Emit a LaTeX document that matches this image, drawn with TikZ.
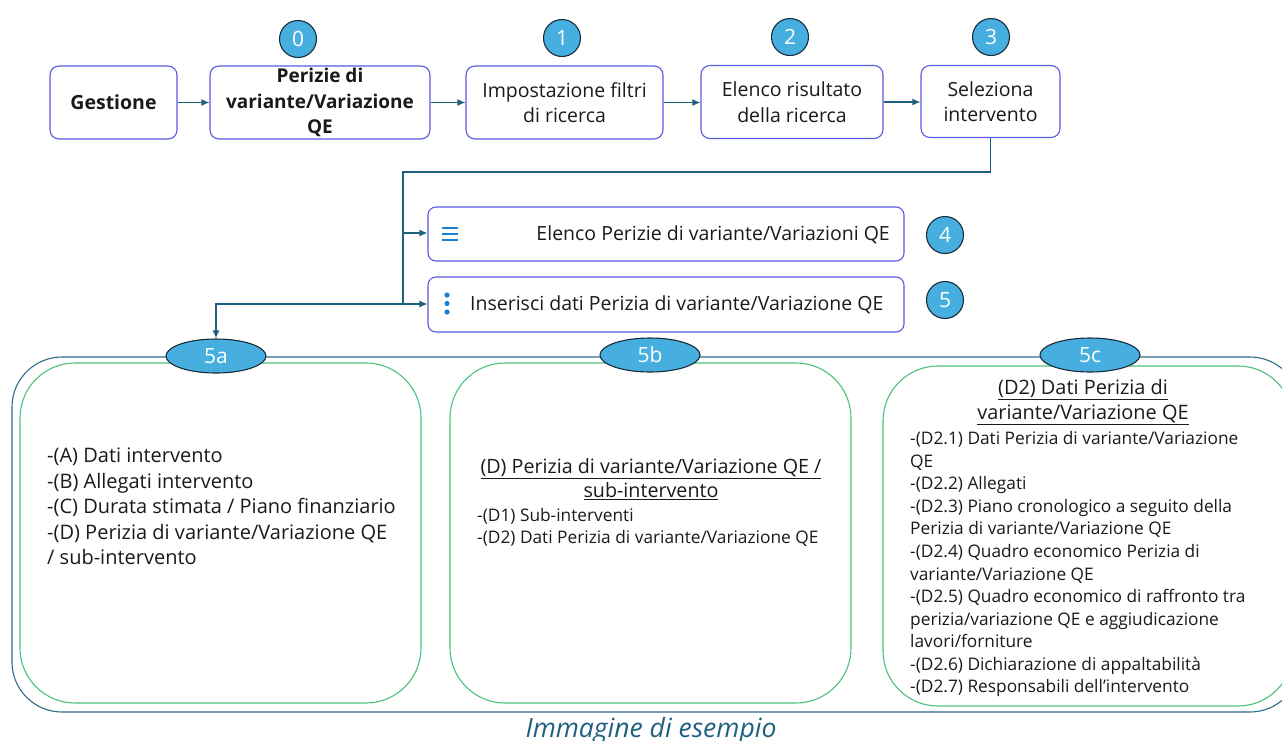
\documentclass[tikz,border=0pt]{standalone}
\usepackage{fontspec}
\setmainfont{Open Sans}
\usetikzlibrary{arrows.meta,shapes.geometric}
\definecolor{boxblue}{HTML}{5A5AE6}
\definecolor{conn}{HTML}{1F5F80}
\definecolor{circfill}{HTML}{47AEE0}
\definecolor{circline}{HTML}{1A2B3A}
\definecolor{grn}{HTML}{4CC27A}
\definecolor{outer}{HTML}{2E6C8C}
\definecolor{icon}{HTML}{1E7FD0}
\definecolor{txt}{HTML}{1A1A1A}
\tikzset{
  topbox/.style={draw=boxblue, line width=1.1pt, rounded corners=9pt, fill=white, align=center, text=txt, font=\fontsize{19.5}{25.5}\selectfont, inner sep=2pt},
  numcirc/.style={circle, draw=circline, line width=1.1pt, fill=circfill, minimum size=37pt, inner sep=0pt, text=white, font=\fontsize{21}{22}\selectfont},
  numell/.style={ellipse, draw=circline, line width=1.1pt, fill=circfill, minimum width=100pt, minimum height=34pt, inner sep=0pt, text=white, font=\fontsize{21}{22}\selectfont},
  conline/.style={draw=conn, line width=1.4pt},
  arr/.style={conline, -{Latex[length=8pt,width=7pt]}},
  greenbox/.style={draw=grn, line width=1.1pt, rounded corners=55pt, inner sep=0pt},
  linetext/.style={anchor=base west, inner sep=0pt, text=txt},
}
\begin{document}
\begin{tikzpicture}[x=1pt,y=-1pt]
\useasboundingbox (0,0) rectangle (1282,740);
\clip (0,0) rectangle (1282,740);

% outer frame
\draw[outer, line width=1.1pt, rounded corners=50pt] (12,357) rectangle (1300,712);

% top row
\node[topbox, minimum width=127pt, minimum height=73pt] (g) at (113.5,102.5) {\bfseries Gestione};
\node[topbox, minimum width=220pt, minimum height=73pt, font=\fontsize{19}{25.5}\selectfont] (p) at (320,102.5) {\bfseries Perizie di\\\bfseries variante/Variazione\\\bfseries QE};
\node[topbox, minimum width=197pt, minimum height=73pt] (i) at (564.5,102.5) {Impostazione filtri\\di ricerca};
\node[topbox, minimum width=182pt, minimum height=73pt] (e) at (792,102) {Elenco risultato\\della ricerca};
\node[topbox, minimum width=139pt, minimum height=72pt] (s) at (990.5,101.5) {Seleziona\\intervento};

\node[numcirc] (c0) at (298,39) {0};
\node[numcirc] (c1) at (562,38) {1};
\node[numcirc] (c2) at (790,37) {2};
\node[numcirc] (c3) at (991,37) {3};

\draw[arr] (g.east) -- (p.west);
\draw[arr] (p.east) -- (i.west);
\draw[arr] (i.east) -- (e.west |- i.east);
\draw[arr] (e.east) -- (s.west |- e.east);

% menu boxes
\node[topbox, rounded corners=8pt, minimum width=476pt, minimum height=54pt] (b4) at (666,234) {};
\node[topbox, rounded corners=8pt, minimum width=476pt, minimum height=55pt] (b5) at (666,304.5) {};
\node[anchor=east, inner sep=0pt, text=txt, font=\fontsize{19.5}{22}\selectfont] (t4) at (890,235) {Elenco Perizie di variante/Variazioni QE};
\node[anchor=west, inner sep=0pt, text=txt, font=\fontsize{19.5}{22}\selectfont] (t5) at (470,305) {Inserisci dati Perizia di variante/Variazione QE};
\node[numcirc] (c4) at (945,235) {4};
\node[numcirc] (c5) at (945,300) {5};

% icons
\draw[icon, line width=2pt] (442,228) -- (458,228) (442,234) -- (458,234) (442,240) -- (458,240);
\fill[icon] (447,295) circle (2.6pt) (447,303.5) circle (2.6pt) (447,312) circle (2.6pt);

% connectors
\coordinate (j1) at (403,172);
\coordinate (j4) at (403,233);
\coordinate (j5) at (403,304);
\draw[conline] (s.south) |- (j1) -- (j5);
\draw[arr] (j4) -- (b4.west |- j4);
\draw[arr] (j5) -- (b5.west |- j5);

% green boxes
\node[greenbox, minimum width=401pt, minimum height=340pt] (ga) at (220.5,533) {};
\node[greenbox, minimum width=401pt, minimum height=340pt] (gb) at (650.5,533) {};
\node[greenbox, minimum width=410pt, minimum height=340pt] (gc) at (1088,536) {};

\node[numell] (e5a) at (216,356) {5a};
\node[numell] (e5b) at (650,355) {5b};
\node[numell] (e5c) at (1090,355) {5c};

\draw[arr] (j5) -| (e5a.north);

% 5a text
\begin{scope}[every node/.style={linetext, font=\fontsize{20}{22}\selectfont}]
\node (a1) at (47,462.5) {-(A) Dati intervento};
\node (a2) at (47,488) {-(B) Allegati intervento};
\node (a3) at (47,513.5) {-(C) Durata stimata / Piano finanziario};
\node (a4) at (47,539) {-(D) Perizia di variante/Variazione QE};
\node (a5) at (47,564.5) {/ sub-intervento};
\end{scope}

% 5b text
\node[anchor=base, inner sep=0pt, text=txt, font=\fontsize{19.7}{22}\selectfont] (bt1) at (651,473.5) {\underline{(D) Perizia di variante/Variazione QE /}};
\node[anchor=base, inner sep=0pt, text=txt, font=\fontsize{19.7}{22}\selectfont] (bt2) at (651,497.5) {\underline{sub-intervento}};
\begin{scope}[every node/.style={linetext, font=\fontsize{17.3}{20}\selectfont}]
\node (b1) at (477,521) {-(D1) Sub-interventi};
\node (b2) at (477,543) {-(D2) Dati Perizia di variante/Variazione QE};
\end{scope}

% 5c text
\node[anchor=base, inner sep=0pt, text=txt, font=\fontsize{19.9}{22}\selectfont] (ct1) at (1083,394.5) {\underline{(D2) Dati Perizia di}};
\node[anchor=base, inner sep=0pt, text=txt, font=\fontsize{19.9}{22}\selectfont] (ct2) at (1083,419.5) {\underline{variante/Variazione QE}};
\begin{scope}[every node/.style={linetext, font=\fontsize{17.3}{20}\selectfont}]
\node (d1) at (910,444) {-(D2.1) Dati Perizia di variante/Variazione};
\node (d2) at (910,467) {QE};
\node (d3) at (910,489) {-(D2.2) Allegati};
\node (d4) at (910,512) {-(D2.3) Piano cronologico a seguito della};
\node (d5) at (910,534) {Perizia di variante/Variazione QE};
\node (d6) at (910,557) {-(D2.4) Quadro economico Perizia di};
\node (d7) at (910,580) {variante/Variazione QE};
\node (d8) at (910,602) {-(D2.5) Quadro economico di raffronto tra};
\node (d9) at (910,625) {perizia/variazione QE e aggiudicazione};
\node (d10) at (910,647) {lavori/forniture};
\node (d11) at (910,670) {-(D2.6) Dichiarazione di appaltabilità};
\node (d12) at (910,692) {-(D2.7) Responsabili dell’intervento};
\end{scope}

\node[anchor=base, inner sep=0pt, text=conn, font=\itshape\fontsize{26.5}{28}\selectfont] (cap) at (651,737) {Immagine di esempio};
\end{tikzpicture}
\end{document}
